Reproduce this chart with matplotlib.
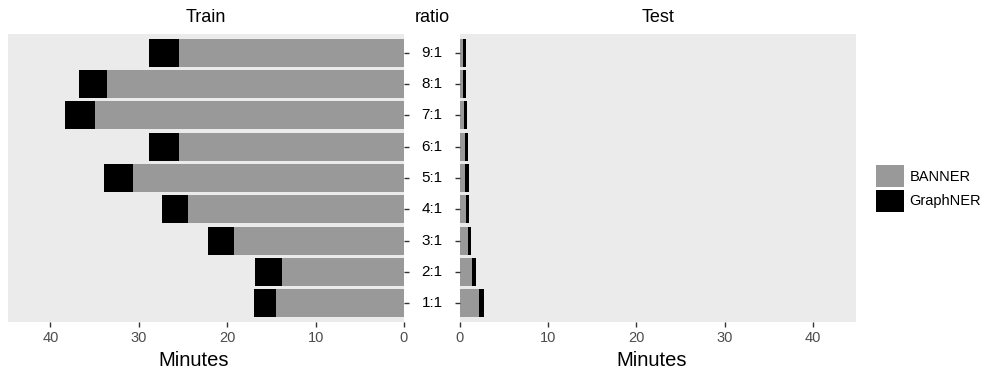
import matplotlib
matplotlib.use("Agg")
import matplotlib.pyplot as plt
from matplotlib.patches import Patch
from matplotlib import transforms

plt.rcParams['font.family'] = ['Liberation Sans', 'DejaVu Sans']

# data (minutes)
ratios = ["1:1", "2:1", "3:1", "4:1", "5:1", "6:1", "7:1", "8:1", "9:1"]
train_banner = [14.5, 13.8, 19.2, 24.4, 30.7, 25.4, 35.0, 33.6, 25.4]
train_graphner = [2.5, 3.0, 3.0, 3.0, 3.2, 3.4, 3.3, 3.2, 3.4]
test_banner = [2.11, 1.32, 0.90, 0.68, 0.60, 0.52, 0.45, 0.37, 0.30]
test_graphner = [0.61, 0.45, 0.38, 0.38, 0.38, 0.35, 0.35, 0.35, 0.35]

GRAY = "#999999"
BG = "#EBEBEB"
TICK = "#4D4D4D"

W, H = 984, 369
fig = plt.figure(figsize=(W / 100, H / 100), dpi=100)

def px(x0, y0, x1, y1):
    return [x0 / W, 1 - y1 / H, (x1 - x0) / W, (y1 - y0) / H]

ax1 = fig.add_axes(px(8, 34, 404, 322))
ax2 = fig.add_axes(px(460, 34, 856, 322))

pos = list(range(len(ratios)))
for ax, banner, graph in [(ax1, train_banner, train_graphner),
                          (ax2, test_banner, test_graphner)]:
    ax.set_facecolor(BG)
    ax.barh(pos, banner, height=0.9, color=GRAY, edgecolor="none")
    ax.barh(pos, graph, left=banner, height=0.9, color="black", edgecolor="none")
    ax.set_ylim(-0.6, len(ratios) - 0.4)
    for s in ax.spines.values():
        s.set_visible(False)
    ax.set_xticks([0, 10, 20, 30, 40])
    ax.tick_params(axis="x", colors="#333333", labelcolor=TICK, labelsize=10.5,
                   length=3.5, width=1, pad=3)

ax1.set_xlim(44.8, 0)
ax2.set_xlim(0, 44.9)

ax1.set_yticks(pos)
ax1.yaxis.tick_right()
ax1.tick_params(axis="y", length=3.5, width=1, colors="#333333", labelright=False)
ax2.set_yticks(pos)
ax2.tick_params(axis="y", length=3.5, width=1, colors="#333333", labelleft=False)

trans = transforms.blended_transform_factory(fig.transFigure, ax1.transData)
for p, r in zip(pos, ratios):
    fig.text(432 / W, p, r, transform=trans, ha="center", va="center",
             fontsize=11, color="black")

fig.text(206 / W, 1 - 17 / H, "Train", ha="center", va="center", fontsize=13)
fig.text(432 / W, 1 - 17 / H, "ratio", ha="center", va="center", fontsize=13)
fig.text(658 / W, 1 - 17 / H, "Test", ha="center", va="center", fontsize=13)

fig.text(194 / W, 1 - 366.5 / H, "Minutes", ha="center", va="baseline", fontsize=14.5)
fig.text(651.5 / W, 1 - 366.5 / H, "Minutes", ha="center", va="baseline", fontsize=14.5)

handles = [Patch(facecolor=GRAY, edgecolor="none", label="BANNER"),
           Patch(facecolor="black", edgecolor="none", label="GraphNER")]
fig.legend(handles=handles, loc="center left", bbox_to_anchor=(876 / W, 1 - 188.5 / H),
           frameon=False, fontsize=10.5, handlelength=1.9, handleheight=1.9,
           handletextpad=0.4, labelspacing=0.2, borderpad=0, borderaxespad=0)

fig.savefig("out.png", dpi=100)
